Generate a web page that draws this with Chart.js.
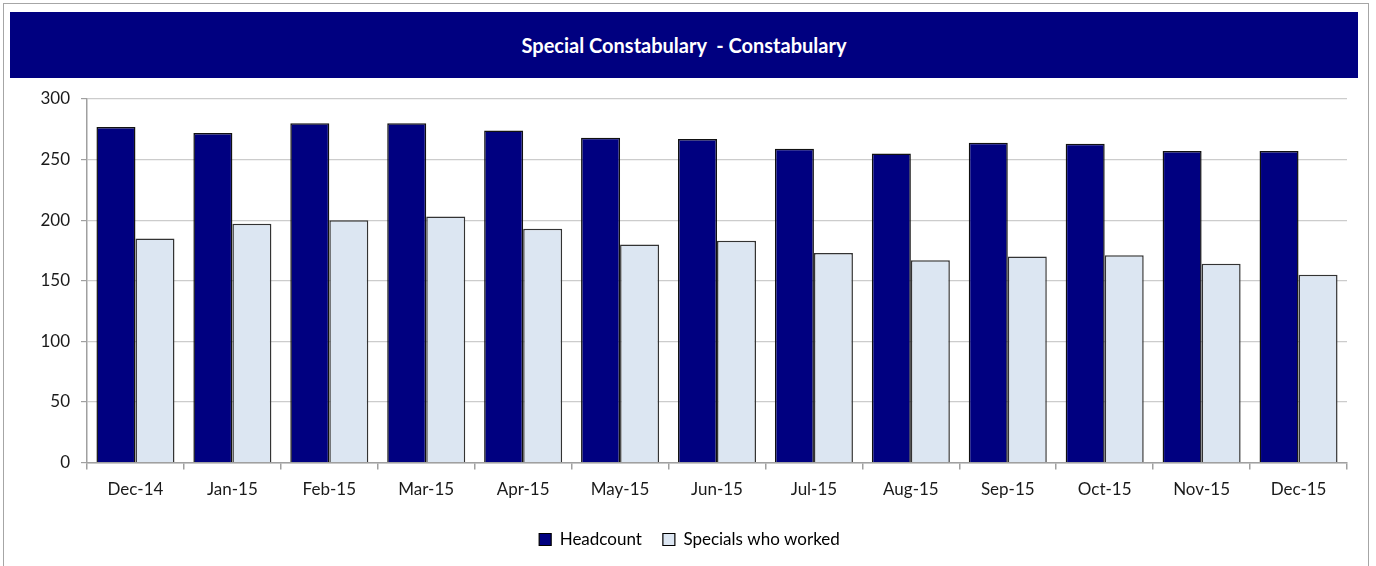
<!DOCTYPE html>
<html>
<head>
<meta charset="utf-8">
<script src="https://cdn.jsdelivr.net/npm/chart.js@4/dist/chart.umd.min.js"></script>
<style>
  html, body { margin: 0; padding: 0; background: #fff; width: 1376px; height: 566px; overflow: hidden; }
  #frame { position: absolute; left: 3px; top: 3px; width: 1366px; height: 600px; border: 1.5px solid #a6a6a6; box-sizing: border-box; }
  #title { position: absolute; left: 10px; top: 12px; width: 1348px; height: 66px; background: #000080;
           color: #fff; font: bold 20px Lato, "Liberation Sans", sans-serif; text-align: center; line-height: 66px; white-space: pre; }
  #wrap { position: absolute; left: 0; top: 80px; width: 1376px; height: 486px; }
</style>
</head>
<body>
<div id="frame"></div>
<div id="title">Special Constabulary  - Constabulary</div>
<div id="wrap"><canvas id="c"></canvas></div>
<script>
const categories = ["Dec-14","Jan-15","Feb-15","Mar-15","Apr-15","May-15","Jun-15","Jul-15","Aug-15","Sep-15","Oct-15","Nov-15","Dec-15"];
const headcount = [277, 272, 280, 280, 274, 268, 267, 259, 255, 264, 263, 257, 257];
const specialsWorked = [185, 197, 200, 203, 193, 180, 183, 173, 167, 170, 171, 164, 155];
const yTicks = [0, 50, 100, 150, 200, 250, 300];

Chart.defaults.font.family = "Lato, 'Liberation Sans', sans-serif";
Chart.defaults.color = "#1a1a1a";

const shiftLegend = {
  id: 'shiftLegend',
  afterLayout(chart) {
    if (chart.legend) { chart.legend.left += 16; chart.legend.right += 16; }
  }
};

new Chart(document.getElementById('c'), {
  type: 'bar',
  data: {
    labels: categories,
    datasets: [
      { label: 'Headcount', data: headcount, backgroundColor: '#000080', borderColor: '#111', borderWidth: 1.5,
        barPercentage: 1.0, categoryPercentage: 0.805 },
      { label: 'Specials who worked', data: specialsWorked, backgroundColor: '#dce6f2', borderColor: '#333', borderWidth: 1.5,
        barPercentage: 1.0, categoryPercentage: 0.805 }
    ]
  },
  plugins: [shiftLegend],
  options: {
    responsive: true,
    maintainAspectRatio: false,
    animation: false,
    layout: { padding: { left: 0, right: 29, top: 19, bottom: 8 } },
    plugins: {
      tooltip: { enabled: false },
      legend: {
        position: 'bottom',
        labels: {
          boxWidth: 12, boxHeight: 12, padding: 21,
          font: { size: 17 }, color: '#1a1a1a',
          generateLabels: (chart) => chart.data.datasets.map((ds, i) => ({
            text: ds.label, fillStyle: ds.backgroundColor, strokeStyle: '#000', lineWidth: 1.2,
            hidden: false, datasetIndex: i
          }))
        }
      }
    },
    scales: {
      y: {
        min: 0, max: 300,
        afterBuildTicks: (s) => { s.ticks = yTicks.map(v => ({ value: v })); },
        afterFit: (s) => { s.width = 87; s.paddingTop = 0; s.paddingBottom = 0; },
        ticks: { padding: 11, font: { size: 17 }, color: '#1a1a1a' },
        grid: { color: '#cccccc', lineWidth: 1.2, tickLength: 6, tickColor: '#a0a0a0' },
        border: { color: '#a0a0a0', width: 1.5 }
      },
      x: {
        grid: { drawOnChartArea: false, tickLength: 7, color: '#a0a0a0', lineWidth: 1.5 },
        border: { color: '#a0a0a0', width: 1.5 },
        ticks: { padding: 10, font: { size: 17 }, color: '#1a1a1a', maxRotation: 0 }
      }
    }
  }
});
</script>
</body>
</html>
